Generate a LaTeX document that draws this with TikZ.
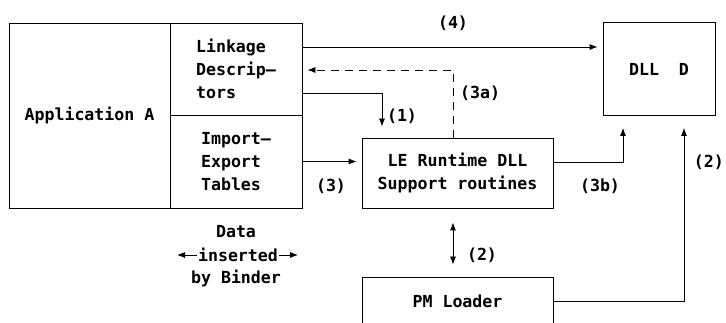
\documentclass[tikz,border=0pt]{standalone}
\usepackage{fontspec}
\setmonofont{DejaVu Sans Mono}
\usetikzlibrary{arrows.meta}

\begin{document}
\begin{tikzpicture}[x=1pt, y=-1pt,
    font=\ttfamily\bfseries\fontsize{16.6}{23}\selectfont,
    >={Latex[length=8pt,width=6pt]},
    boite/.style={draw, line width=0.8pt, inner sep=0pt},
    fleche/.style={line width=0.8pt, ->},
    etiq/.style={inner sep=1pt}]
    % Cadre
    \clip (0,0) rectangle (726,323);

    % Application A
    \node[boite, minimum width=161, minimum height=185] (app) at (89.5,115.5) {Application A};
    \node[boite, minimum width=132, minimum height=92, align=left] (link) at (236,69) {Linkage\\Descrip—\\tors};
    \node[boite, minimum width=132, minimum height=93, align=left] (imp) at (236,161.5) {Import—\\Export\\Tables};

    % Autres boites
    \node[boite, minimum width=191, minimum height=70, align=center] (rt) at (457.5,173) {LE Runtime DLL\\Support routines};
    \node[boite, minimum width=112, minimum height=93] (dll) at (659,69) {DLL~~D};
    \node[boite, minimum width=191, minimum height=48] (pm) at (457.5,301) {PM Loader};

    % Liaisons
    \draw[fleche, shorten >=5pt] ([yshift=22pt]link.east) -- ([yshift=22pt]dll.west);
    \draw[fleche, dash pattern=on 8pt off 6pt, shorten >=5pt] ([xshift=-4.5pt]rt.north) |- ([yshift=-1pt]link.east);
    \draw[fleche, shorten >=11pt] ([yshift=-24pt]link.east) -| ([xshift=-75.5pt]rt.north);
    \draw[fleche, shorten >=5pt] (imp.east) -- (imp.east -| rt.west);
    \draw[fleche, shorten >=12pt] ([yshift=11pt]rt.east) -| ([xshift=-36pt]dll.south);
    \draw[fleche, shorten >=12pt] (pm.east) -| ([xshift=25pt]dll.south);
    \draw[fleche, <->, shorten <=14pt, shorten >=12pt] ([xshift=-4.5pt]rt.south) -- ([xshift=-4.5pt]pm.north);

    % Etiquettes
    \node[etiq] (l4) at (453,23) {(4)};
    \node[etiq, anchor=west] (l3a) at (459,93) {(3a)};
    \node[etiq] (l1) at (402,116) {(1)};
    \node[etiq] (l3) at (331,186) {(3)};
    \node[etiq] (l3b) at (600,186) {(3b)};
    \node[etiq] (l2a) at (482,255) {(2)};
    \node[etiq, anchor=east] (l2b) at (725,162) {(2)};

    % Donnees du Binder
    \node[etiq] (data) at (236,232) {Data};
    \node[etiq] (ins) at (238,255) {inserted};
    \node[etiq] (by) at (236,278) {by Binder};
    \coordinate (insg) at (177,255);
    \coordinate (insd) at (298,255);
    \draw[fleche] (ins) -- (insg);
    \draw[fleche] (ins) -- (insd);

\end{tikzpicture}
\end{document}
